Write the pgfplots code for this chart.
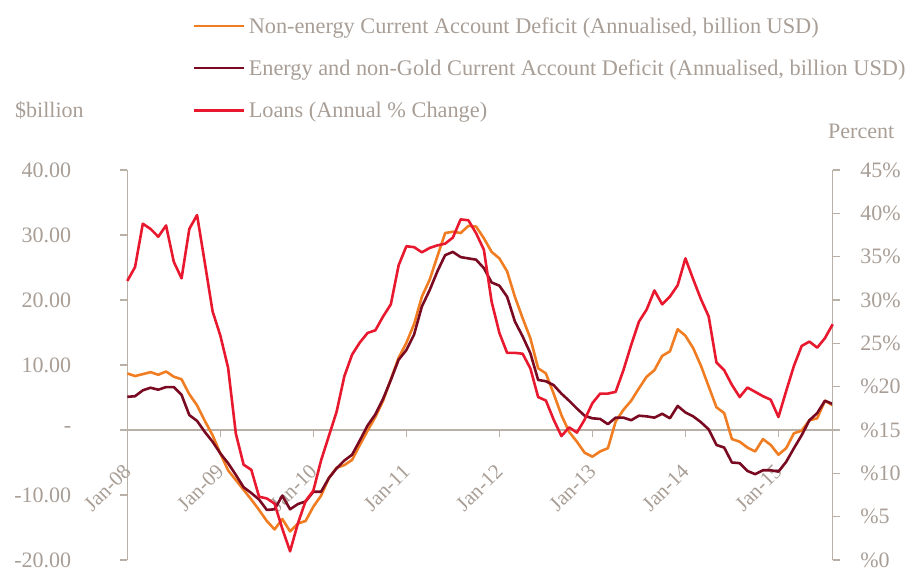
\documentclass[border=0pt]{standalone}
\usepackage{fontspec}
\setmainfont{Liberation Serif}
\usepackage{pgfplots}
\usepackage{pgfplotstable}
\pgfplotsset{compat=1.18}
\definecolor{cOrange}{RGB}{241,125,34}
\definecolor{cDark}{RGB}{122,10,34}
\definecolor{cRed}{RGB}{232,24,46}
\definecolor{cText}{RGB}{168,158,150}
\definecolor{cAxis}{RGB}{185,176,168}

\pgfplotstableread{
m ne en ln
0 8.7 5.1 32.2
1 8.3 5.2 33.8
2 8.6 6.1 38.8
3 8.9 6.5 38.2
4 8.5 6.2 37.3
5 9.0 6.6 38.6
6 8.2 6.6 34.4
7 7.8 5.4 32.5
8 5.5 2.3 38.2
9 3.8 1.4 39.8
10 1.4 -0.3 34.3
11 -0.8 -1.8 28.7
12 -3.6 -3.6 25.9
13 -6.2 -5.1 22.2
14 -7.7 -6.9 14.6
15 -9.2 -8.8 11.0
16 -10.7 -9.7 10.4
17 -12.3 -10.7 7.3
18 -14.0 -12.3 7.1
19 -15.3 -12.2 6.5
20 -13.7 -10.1 3.6
21 -15.6 -12.2 1.0
22 -14.4 -11.4 4.2
23 -14.0 -11.0 6.8
24 -11.8 -9.5 8.0
25 -10.1 -9.5 11.5
26 -7.4 -7.4 14.3
27 -5.8 -5.9 17.1
28 -5.4 -4.7 21.2
29 -4.6 -3.8 23.7
30 -2.3 -1.6 25.1
31 -0.1 0.7 26.2
32 2.0 2.4 26.5
33 4.5 4.8 28.1
34 7.8 7.7 29.5
35 11.1 10.8 34.0
36 13.4 12.3 36.2
37 16.3 14.7 36.1
38 20.5 19.0 35.5
39 23.1 21.5 36.0
40 26.7 24.4 36.3
41 30.3 26.9 36.5
42 30.5 27.4 37.2
43 30.3 26.6 39.3
44 31.4 26.4 39.2
45 31.3 26.2 37.7
46 29.5 24.9 35.8
47 27.4 22.7 29.8
48 26.4 22.2 26.2
49 24.4 20.5 23.9
50 20.5 16.7 23.9
51 17.2 14.4 23.8
52 14.1 11.8 22.1
53 9.5 7.7 18.8
54 8.7 7.5 18.4
55 5.6 6.9 16.2
56 2.3 5.6 14.3
57 -0.3 4.5 15.3
58 -1.8 3.3 14.7
59 -3.5 2.2 16.2
60 -4.1 1.8 18.1
61 -3.3 1.7 19.2
62 -2.8 0.9 19.2
63 1.3 1.9 19.4
64 3.1 1.9 21.9
65 4.5 1.5 24.8
66 6.4 2.2 27.5
67 8.2 2.1 28.9
68 9.2 1.9 31.1
69 11.4 2.5 29.5
70 12.1 1.8 30.4
71 15.5 3.7 31.7
72 14.5 2.7 34.8
73 12.6 2.1 32.4
74 9.9 1.2 30.1
75 6.7 0.1 28.1
76 3.5 -2.3 22.8
77 2.6 -2.7 21.9
78 -1.4 -5.0 20.2
79 -1.8 -5.1 18.8
80 -2.7 -6.3 19.9
81 -3.3 -6.8 19.4
82 -1.4 -6.2 18.9
83 -2.3 -6.2 18.5
84 -3.8 -6.4 16.5
85 -2.8 -4.9 19.5
86 -0.5 -2.8 22.4
87 -0.1 -0.8 24.7
88 1.5 1.5 25.2
89 1.8 2.6 24.5
90 4.5 4.5 25.6
91 3.8 4.0 27.2
}\data

\newcommand{\bigfont}{\fontsize{22}{26}\selectfont}
\newcommand{\legfont}{\fontsize{22.3}{26}\selectfont}
\newcommand{\xfont}{\fontsize{21}{25}\selectfont}

\begin{document}
\begin{tikzpicture}
\useasboundingbox (-127.3pt,-9pt) rectangle (783.7pt,560pt);
\begin{axis}[
  scale only axis, width=705.4pt, height=390pt,
  at={(0pt,0pt)}, anchor=south west,
  xmin=0, xmax=91, ymin=-20, ymax=40,
  axis y line*=left, axis x line*=middle,
  hide obscured x ticks=false, hide obscured y ticks=false,
  axis line style={draw=cAxis, line width=1.3pt, -},
  tick style={draw=cAxis, line width=1.3pt},
  major tick length=7pt, tick align=outside,
  xtick={0,12,...,84},
  xticklabels={Jan-08,Jan-09,Jan-10,Jan-11,Jan-12,Jan-13,Jan-14,Jan-15},
  ytick={-20,-10,...,40},
  yticklabels={-20.00,-10.00,-\hspace{7pt},10.00,20.00,30.00,40.00},
  yticklabel style={anchor=east, inner sep=0pt, text depth=0pt, xshift=-49pt, font=\bigfont, text=cText},
  xticklabel style={yshift=-31pt, rotate=45, anchor=east, inner sep=0pt, font=\xfont, text=cText},
  clip=false,
  legend style={draw=none, fill=none, at={(rel axis cs:0.0931,1.2615)}, anchor=west,
    inner sep=0pt, row sep=25pt, nodes={inner sep=0pt, text=cText, font=\legfont}},
  legend cell align=left,
  legend image code/.code={\draw[#1] (0pt,0pt) -- (50pt,0pt);},
]
\addplot[cOrange, line width=2.6pt, line join=round] table[x=m,y=ne]{\data};
\addlegendentry{\hspace{3pt}Non-energy Current Account Deficit (Annualised, billion USD)}
\addplot[cDark, line width=2.6pt, line join=round] table[x=m,y=en]{\data};
\addlegendentry{\hspace{3pt}Energy and non-Gold Current Account Deficit (Annualised, billion USD)}
\addlegendimage{cRed, line width=2.6pt}
\addlegendentry{\hspace{3pt}Loans (Annual \% Change)}
\node[anchor=west, inner sep=0pt, text=cText, font=\bigfont] at (rel axis cs:-0.1592,1.1538) {\$billion};
\end{axis}
\begin{axis}[
  scale only axis, width=705.4pt, height=390pt,
  at={(0pt,0pt)}, anchor=south west,
  xmin=0, xmax=91, ymin=0, ymax=45,
  axis y line*=right, axis x line=none,
  axis line style={draw=cAxis, line width=1.3pt, -},
  tick style={draw=cAxis, line width=1.3pt},
  major tick length=7pt, tick align=outside,
  ytick={0,5,...,45},
  yticklabels={\%0,\%5,\%10,\%15,\%20,25\%,30\%,35\%,40\%,45\%},
  yticklabel style={anchor=west, inner sep=0pt, text depth=0pt, xshift=20.5pt, font=\bigfont, text=cText},
  clip=false,
]
\addplot[cRed, line width=2.6pt, line join=round] table[x=m,y=ln]{\data};
\node[anchor=west, inner sep=0pt, text=cText, font=\bigfont] at (rel axis cs:0.9933,1.1) {Percent};
\end{axis}
\end{tikzpicture}
\end{document}
